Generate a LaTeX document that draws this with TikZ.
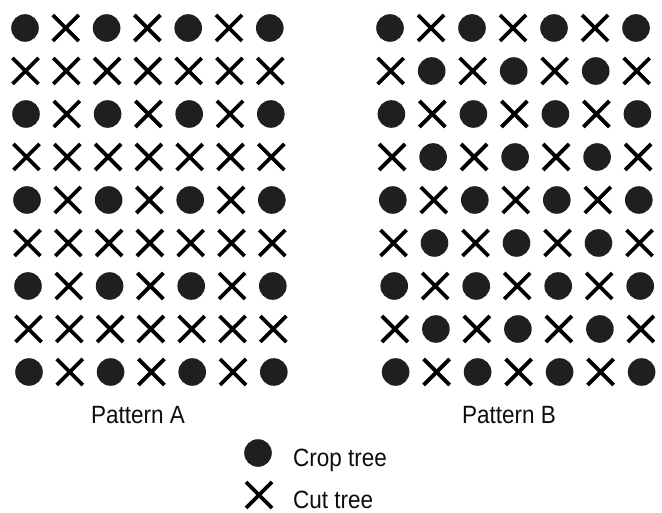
\documentclass[tikz,border=0pt]{standalone}
\usepackage{fontspec}
\setmainfont[FakeStretch=0.9]{Liberation Sans}
\tikzset{
  crop/.style={fill=black!88},
  cutmark/.style={draw=black, line width=3.8pt, line cap=butt},
  lbl/.style={font=\fontsize{25}{30}\selectfont, inner sep=0pt, text=black!95}
}
\newcommand\mycrop[2]{\fill[crop] (#1,#2) circle[radius=13.8pt];}
\newcommand\mycut[2]{\draw[cutmark] (#1-13,#2-13) -- (#1+13,#2+13) (#1-13,#2+13) -- (#1+13,#2-13);}
\begin{document}
\begin{tikzpicture}[x=1pt,y=-1pt]
\useasboundingbox (0,0) rectangle (662,513);
% Pattern A
\foreach \r in {0,...,8}{
  \foreach \i in {0,...,6}{
    \pgfmathsetmacro{\xx}{25+40.8*\i+0.5*\r}
    \pgfmathsetmacro{\yy}{28+43*\r}
    \pgfmathtruncatemacro{\isdot}{(mod(\r,2)==0 && mod(\i,2)==0) ? 1 : 0}
    \ifnum\isdot=1 \mycrop{\xx}{\yy}\else \mycut{\xx}{\yy}\fi
  }
}
% Pattern B
\foreach \r in {0,...,8}{
  \foreach \i in {0,...,6}{
    \pgfmathsetmacro{\xx}{390+41*\i+0.7*\r}
    \pgfmathsetmacro{\yy}{28+43*\r}
    \pgfmathtruncatemacro{\isdot}{mod(\r+\i,2)==0 ? 1 : 0}
    \ifnum\isdot=1 \mycrop{\xx}{\yy}\else \mycut{\xx}{\yy}\fi
  }
}
\node[lbl, anchor=base] (pa) at (138,423) {Pattern A};
\node[lbl, anchor=base] (pb) at (509,423) {Pattern B};
% legend
\mycrop{258}{453}
\mycut{259}{495}
\node[lbl, anchor=base west] (ct) at (293,466) {Crop tree};
\node[lbl, anchor=base west] (cu) at (293,508) {Cut tree};
\end{tikzpicture}
\end{document}
